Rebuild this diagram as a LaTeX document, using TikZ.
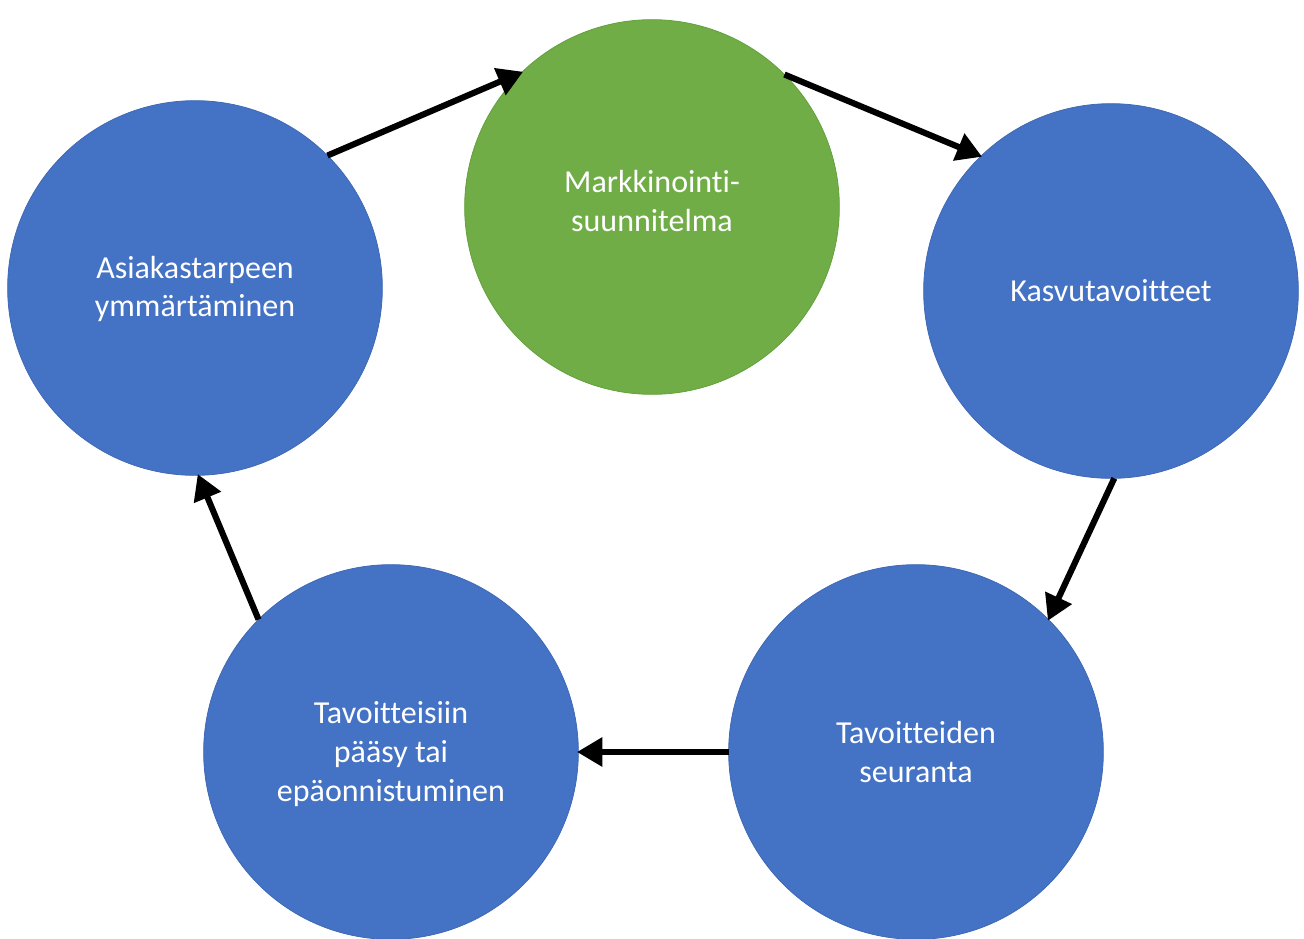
\documentclass[tikz,border=0pt]{standalone}
\usepackage{fontspec}
\setmainfont[Ligatures={NoCommon,NoContextual}, RawFeature={-liga;-clig;-calt}]{Carlito}
\usetikzlibrary{arrows.meta}
\definecolor{stepblue}{HTML}{4472C4}
\definecolor{stepblueedge}{HTML}{3F69B5}
\definecolor{stepgreen}{HTML}{70AD47}
\definecolor{stepgreenedge}{HTML}{64A03D}
\begin{document}
\begin{tikzpicture}[x=0.75pt,y=-0.75pt,
  phase/.style={circle, inner sep=0pt, outer sep=0pt, minimum size=281pt,
    fill=stepblue, draw=stepblueedge, line width=0.6pt},
  keyphase/.style={phase, fill=stepgreen, draw=stepgreenedge},
  label/.style={text=white, align=center, font=\fontsize{24}{29}\selectfont},
  flow/.style={draw=black, line width=4.6pt,
    -{Triangle[length=19pt,width=21pt]}, shorten >=-1pt}]
  \useasboundingbox (0,0) rectangle (1304,939);

  % the five phases of the cycle
  \node[keyphase] (plan) at (652,207) {};
  \node[phase] (goals) at (1111,291) {};
  \node[phase] (track) at (916,752) {};
  \node[phase] (reach) at (391,752) {};
  \node[phase] (needs) at (195,288) {};

  % labels
  \node[label] (tplan) at (652,201) {Markkinointi-\\suunnitelma};
  \node[label] (tgoals) at (1111,291) {Kasvutavoitteet};
  \node[label] (ttrack) at (916,752) {Tavoitteiden\\seuranta};
  \node[label] (treach) at (391,754) {Tavoitteisiin\\pääsy tai\\epäonnistuminen};
  \node[label] (tneeds) at (195,289) {Asiakastarpeen\\ymmärtäminen};

  % arrows around the cycle
  \draw[flow] (needs.45) -- (plan.134);
  \draw[flow] (plan.45) -- (goals.134);
  \draw[flow] (goals.271) -- (track.45);
  \draw[flow] (track.180) -- (reach.0);
  \draw[flow] (reach.135) -- (needs.271);
\end{tikzpicture}
\end{document}
